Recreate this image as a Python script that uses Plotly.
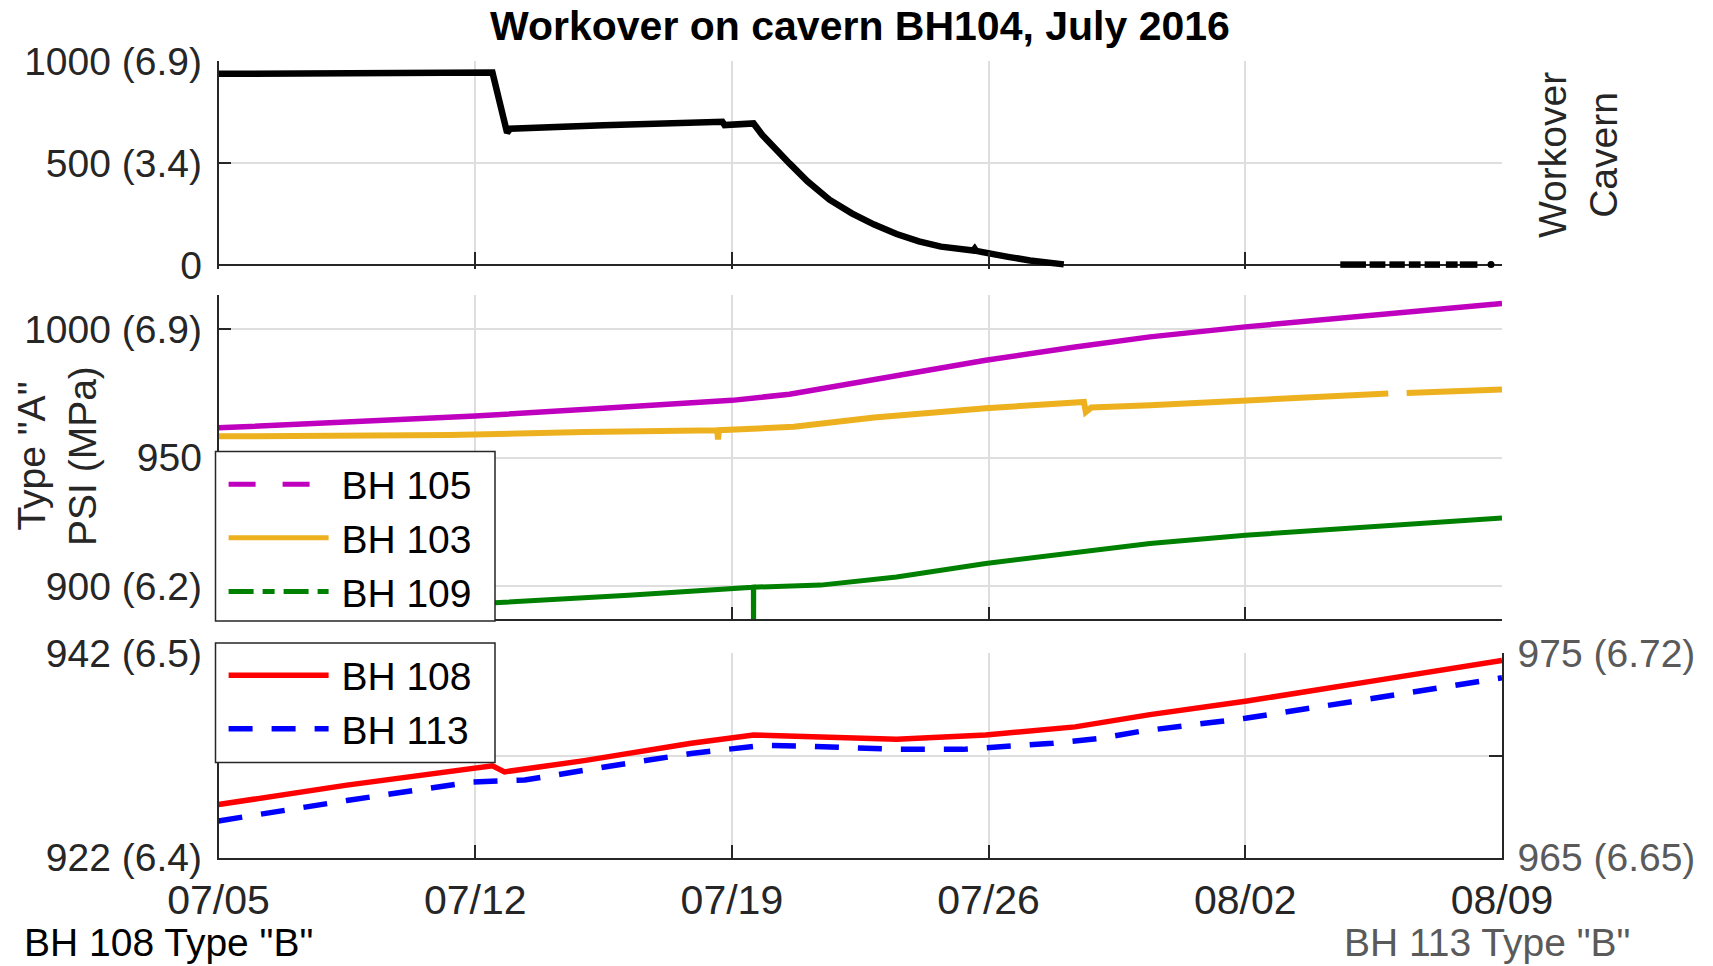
import plotly.graph_objects as go
import pandas as pd

# ---------------- data (days since 2016-07-05 00:00) ----------------
START = pd.Timestamp("2016-07-05")
END = pd.Timestamp("2016-08-09")

# Workover cavern (panel 1), PSI
wk_days = [0, 3.5, 7.47, 7.87, 7.95, 10.5, 13.74, 13.80, 14.59, 14.83, 15.2, 15.57,
           16.06, 16.66, 17.27, 17.88, 18.49, 19.1, 19.7, 20.58, 20.62, 20.66, 21.53, 22.13, 23.05]
wk_psi = [937, 940, 944, 648, 668, 685, 702, 686, 694, 637, 564, 498,
          410, 320, 253, 198, 152, 116, 90, 71, 80, 69, 40, 22, 3]
# late low-pressure readings (gaps = None)
wk_late_days = [30.59, 31.29, 31.3, 31.39, 31.82, 31.85, 31.93, 32.35, 32.4, 32.46, 32.78, 32.8,
                32.89, 33.31, 33.4, 33.47, 33.79, 33.82, 33.85, 34.33]
wk_late_psi = [2, 2, None, 2, 2, None, 2, 2, None, 2, 2, None,
               2, 2, None, 2, 2, None, 2, 2]
wk_dot_days = [34.70]
wk_dot_psi = [2]

# Type "A" wells (panel 2), PSI
bh105_days = [0, 3.5, 7, 10.5, 14, 15.57, 17.51, 18.97, 20.92, 23.36, 25.4, 28, 31.5, 35]
bh105_psi = [961.6, 963.9, 966.2, 969.2, 972.3, 974.7, 979.5, 983.0, 987.9, 993.1, 997.0, 1000.9, 1005.6, 1010.0]

bh103_days = [0, 3.5, 6.31, 9.97, 13.6, 13.62, 13.65, 15.69, 17.88, 20.92, 23.6, 23.65, 23.8,
              25.4, 28, 31.9, 32.1, 32.4, 35]
bh103_psi = [958.3, 958.6, 958.8, 960.0, 960.7, 957.1, 960.7, 962.0, 965.6, 969.2, 971.7, 967.8, 969.5,
             970.4, 972.4, 975.0, None, 975.2, 976.5]

bh109_days = [0, 7.53, 11.18, 14.585, 14.59, 14.595, 16.42, 18.49, 20.92, 23.36, 25.4, 28, 31.5, 35]
bh109_psi = [888.5, 893.5, 896.5, 899.6, 870.0, 899.6, 900.4, 903.6, 908.8, 913.3, 916.6, 919.8, 923.0, 926.5]

# Type "B" wells (panel 3)
bh108_days = [0, 3.5, 7.47, 7.8, 9.97, 12.89, 14.59, 16.05, 18.49, 20.92, 23.36, 25.4, 28, 31.5, 35]
bh108_psi = [927.2, 929.1, 931.0, 930.4, 931.5, 933.2, 934.0, 933.9, 933.6, 934.0, 934.8, 936.0, 937.3, 939.3, 941.3]

bh113_days = [0, 3.5, 6.9, 8.35, 10.57, 12.89, 14.85, 16.05, 18.49, 20.3, 22.75, 24.04, 25.2, 28, 31.5, 35]
bh113_psi = [966.8, 967.8, 968.7, 968.8, 969.45, 970.1, 970.5, 970.46, 970.3, 970.3, 970.6, 970.84, 971.2,
             971.82, 972.8, 973.8]

# tick labels
p1_ticks = [0, 500, 1000]
p1_labels = ["0", "500 (3.4)", "1000 (6.9)"]
p2_ticks = [900, 950, 1000]
p2_labels = ["900 (6.2)", "950", "1000 (6.9)"]
p3l_ticks = [922, 932, 942]
p3l_labels = ["922 (6.4)", "", "942 (6.5)"]
p3r_ticks = [965, 970, 975]
p3r_labels = ["965 (6.65)", "", "975 (6.72)"]


def dates(days):
    return [START + pd.Timedelta(days=d) for d in days]


# ---------------- style ----------------
OFF = 8                       # default page body margin
FW, FH = 1713 - OFF, 966 - OFF
FONT = "Liberation Sans, Arial, Helvetica, sans-serif"
FS = 39
AX = "#262626"
GRID = "#dedede"
GRAY = "#5a5a5a"


def px(x):
    return (x - OFF) / FW


def py(y):
    return 1 - (y - OFF) / FH


X0, X1 = px(218.5), px(1502)
P1_LOW = -20                                  # small pad so the zero-level readings are not clipped
D1 = [py(265 + (0 - P1_LOW) * 204 / 1000), py(61)]
D2 = [py(619.3), py(295)]
D3 = [py(857.7), py(653.3)]

MAGENTA = "#bf00bf"
ORANGE = "#edb120"
GREEN = "#008000"
RED = "#ff0000"
BLUE = "#0000ff"

fig = go.Figure()

# panel 1
fig.add_trace(go.Scatter(x=dates(wk_days), y=wk_psi, mode="lines",
                         line=dict(color="black", width=6.5), xaxis="x3", yaxis="y3",
                         showlegend=False))
fig.add_trace(go.Scatter(x=dates(wk_late_days), y=wk_late_psi, mode="lines",
                         line=dict(color="black", width=6.5),
                         xaxis="x3", yaxis="y3", showlegend=False, connectgaps=False))
fig.add_trace(go.Scatter(x=dates(wk_dot_days), y=wk_dot_psi, mode="markers",
                         marker=dict(color="black", size=7), cliponaxis=False,
                         xaxis="x3", yaxis="y3", showlegend=False))

# panel 2
fig.add_trace(go.Scatter(x=dates(bh105_days), y=bh105_psi, mode="lines",
                         line=dict(color=MAGENTA, width=5.5), xaxis="x2", yaxis="y2",
                         showlegend=False))
fig.add_trace(go.Scatter(x=dates(bh103_days), y=bh103_psi, mode="lines",
                         line=dict(color=ORANGE, width=6), xaxis="x2", yaxis="y2",
                         showlegend=False, connectgaps=False))
fig.add_trace(go.Scatter(x=dates(bh109_days), y=bh109_psi, mode="lines",
                         line=dict(color=GREEN, width=5), xaxis="x2", yaxis="y2",
                         showlegend=False))
# legend keys for panel 2
PRE = "\u2009"
NB = "\u00a0\u00a0"
fig.add_trace(go.Scatter(x=[None], y=[None], mode="lines", name=PRE + "BH 105" + NB,
                         line=dict(color=MAGENTA, width=5, dash="27px,27px"),
                         xaxis="x2", yaxis="y2", legend="legend"))
fig.add_trace(go.Scatter(x=[None], y=[None], mode="lines", name=PRE + "BH 103" + NB,
                         line=dict(color=ORANGE, width=5),
                         xaxis="x2", yaxis="y2", legend="legend"))
fig.add_trace(go.Scatter(x=[None], y=[None], mode="lines", name=PRE + "BH 109" + NB,
                         line=dict(color=GREEN, width=5, dash="25px,9px,12px,9px"),
                         xaxis="x2", yaxis="y2", legend="legend"))

# panel 3
fig.add_trace(go.Scatter(x=dates(bh108_days), y=bh108_psi, mode="lines", name=PRE + "BH 108" + NB,
                         line=dict(color=RED, width=5.5), xaxis="x", yaxis="y",
                         legend="legend2"))
fig.add_trace(go.Scatter(x=dates(bh113_days), y=bh113_psi, mode="lines", name=PRE + "BH 113" + NB,
                         line=dict(color=BLUE, width=5.5, dash="24px,19px"), xaxis="x", yaxis="y4",
                         legend="legend2"))

xcommon = dict(domain=[X0, X1], range=[START, END], type="date", tick0=START,
               dtick=7 * 86400000, tickformat="%m/%d", ticks="inside", ticklen=13,
               tickwidth=1.5, tickcolor=AX, showline=True, linecolor=AX, linewidth=1.5,
               showgrid=True, gridcolor=GRID, gridwidth=1.5, zeroline=False,
               automargin=False, tickfont=dict(family=FONT, size=41, color=AX))
ycommon = dict(ticks="inside", ticklen=13, tickwidth=1.5, tickcolor=AX, showline=True,
               linecolor=AX, linewidth=1.5, showgrid=True, gridcolor=GRID, gridwidth=1.5,
               zeroline=False, automargin=False, tickmode="array",
               tickfont=dict(family=FONT, size=FS, color=AX), ticklabelstandoff=7)

legend_common = dict(x=px(223.6), xanchor="left", yanchor="top",
                     bgcolor="rgba(0,0,0,0)", borderwidth=0,
                     font=dict(family=FONT, size=FS, color="black"), itemwidth=100,
                     tracegroupgap=0)

box_style = dict(type="rect", xref="paper", yref="paper", layer="above",
                 fillcolor="white", line=dict(color=AX, width=1.5))

fig.update_layout(
    width=FW, height=FH, template="none",
    paper_bgcolor="white", plot_bgcolor="white",
    margin=dict(l=0, r=0, t=0, b=0),
    font=dict(family=FONT, size=FS, color=AX),
    xaxis=dict(xcommon, anchor="y", ticklabelstandoff=5),
    xaxis2=dict(xcommon, anchor="y2", matches="x", showticklabels=False),
    xaxis3=dict(xcommon, anchor="y3", matches="x", showticklabels=False,
                showline=False, ticklen=17),
    yaxis=dict(ycommon, domain=D3, anchor="x", range=[922, 942],
               tickvals=p3l_ticks, ticktext=p3l_labels),
    yaxis4=dict(ycommon, overlaying="y", side="right", anchor="x", range=[965, 975],
                tickvals=p3r_ticks, ticktext=p3r_labels, showgrid=False, ticklabelstandoff=6,
                tickfont=dict(family=FONT, size=FS, color=GRAY)),
    yaxis2=dict(ycommon, domain=D2, anchor="x2", range=[887.1, 1013.3],
                tickvals=p2_ticks, ticktext=p2_labels),
    yaxis3=dict(ycommon, domain=D1, anchor="x3", range=[P1_LOW, 1000],
                tickvals=p1_ticks, ticktext=p1_labels,
                zeroline=True, zerolinecolor=AX, zerolinewidth=1.5),
    legend=dict(legend_common, y=py(452.3)),
    legend2=dict(legend_common, y=py(643.3)),
    shapes=[
        dict(box_style, x0=px(215.5), x1=px(495), y0=py(621), y1=py(451.5)),
        dict(box_style, x0=px(215.5), x1=px(495), y0=py(762.5), y1=py(643)),
    ],
    annotations=[
        dict(text="<b>Workover on cavern BH104, July 2016</b>", x=px(860.25), y=py(26.5),
             xref="paper", yref="paper", xanchor="center", yanchor="middle",
             showarrow=False, font=dict(family=FONT, size=41, color="black")),
        dict(text="Workover<br>Cavern", x=px(1578), y=py(155), xref="paper", yref="paper",
             xanchor="center", yanchor="middle", textangle=-90, showarrow=False,
             font=dict(family=FONT, size=FS, color=AX)),
        dict(text='Type "A"<br>PSI (MPa)', x=px(57), y=py(456), xref="paper", yref="paper",
             xanchor="center", yanchor="middle", textangle=-90, showarrow=False,
             font=dict(family=FONT, size=39, color=AX)),
        dict(text='BH 108 Type "B"', x=px(22), y=py(942), xref="paper", yref="paper",
             xanchor="left", yanchor="middle", showarrow=False,
             font=dict(family=FONT, size=FS, color="black")),
        dict(text='BH 113 Type "B"', x=px(1487), y=py(942), xref="paper", yref="paper",
             xanchor="center", yanchor="middle", showarrow=False,
             font=dict(family=FONT, size=FS, color=GRAY)),
    ],
)

fig.write_html("out.html")
